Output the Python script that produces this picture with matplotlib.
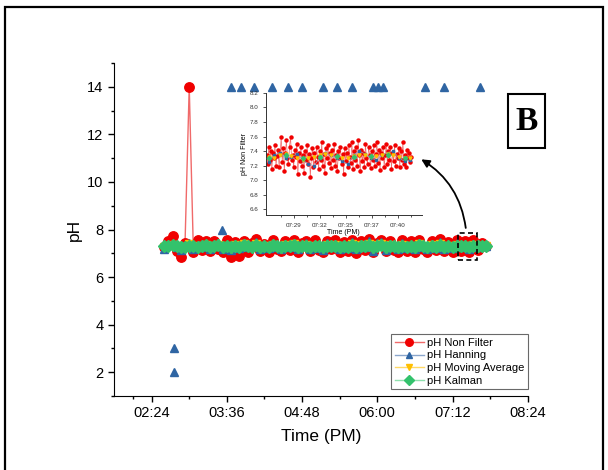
import numpy as np
import matplotlib
matplotlib.use("Agg")
import matplotlib.pyplot as plt
from matplotlib.patches import Rectangle

plt.rcParams['font.family'] = ['Liberation Sans', 'DejaVu Sans']

# ---- data (time in minutes after 12:00 PM) ----
t_start = 156.0
t_step = 4.0

ph_raw = [7.25, 7.50, 7.72, 7.10, 6.86, 7.45, 14.0, 7.05, 7.55, 7.15,
          7.50, 7.08, 7.52, 7.20, 7.04, 7.55, 6.86, 7.48, 6.88, 7.52,
          7.06, 7.45, 7.58, 7.10, 7.40, 7.05, 7.55, 7.18, 7.08, 7.52,
          7.12, 7.56, 7.05, 7.42, 7.50, 7.08, 7.55, 7.15, 7.04, 7.52,
          7.20, 7.55, 7.06, 7.48, 7.10, 7.56, 7.02, 7.50, 7.12, 7.58,
          7.05, 7.45, 7.55, 7.08, 7.52, 7.15, 7.04, 7.56, 7.10, 7.50,
          7.06, 7.55, 7.20, 7.05, 7.52, 7.12, 7.58, 7.08, 7.48, 7.05,
          7.55, 7.10, 7.50, 7.06, 7.56, 7.15, 7.45, 7.30]
ph_hanning = [7.20, 7.35, 7.40, 7.25, 7.15, 7.30, 7.45, 7.20, 7.35, 7.25,
              7.40, 7.18, 7.32, 7.42, 7.20, 7.28, 7.15, 7.38, 7.22, 7.45,
              7.25, 7.30, 7.48, 7.18, 7.35, 7.22, 7.42, 7.28, 7.16, 7.40,
              7.25, 7.45, 7.20, 7.32, 7.42, 7.18, 7.36, 7.24, 7.15, 7.44,
              7.28, 7.40, 7.20, 7.34, 7.22, 7.46, 7.18, 7.38, 7.25, 7.50,
              7.10, 7.45, 7.48, 7.12, 7.40, 7.28, 7.18, 7.42, 7.22, 7.36,
              7.20, 7.44, 7.26, 7.18, 7.40, 7.24, 7.46, 7.20, 7.34, 7.22,
              7.42, 7.25, 7.38, 7.20, 7.40, 7.28, 7.35, 7.30]
ph_moving = [7.28, 7.30, 7.35, 7.32, 7.25, 7.28, 7.38, 7.30, 7.26, 7.32,
             7.34, 7.22, 7.30, 7.36, 7.24, 7.30, 7.20, 7.33, 7.26, 7.38,
             7.28, 7.25, 7.40, 7.22, 7.32, 7.26, 7.36, 7.30, 7.20, 7.35,
             7.28, 7.38, 7.24, 7.30, 7.36, 7.22, 7.32, 7.28, 7.20, 7.36,
             7.30, 7.34, 7.24, 7.30, 7.26, 7.38, 7.22, 7.34, 7.28, 7.40,
             7.18, 7.36, 7.38, 7.20, 7.34, 7.30, 7.22, 7.36, 7.26, 7.32,
             7.24, 7.38, 7.28, 7.22, 7.34, 7.26, 7.38, 7.24, 7.30, 7.26,
             7.36, 7.28, 7.32, 7.24, 7.34, 7.30, 7.32, 7.30]
ph_kalman = [7.30, 7.32, 7.34, 7.30, 7.26, 7.28, 7.32, 7.30, 7.28, 7.31,
             7.33, 7.27, 7.30, 7.33, 7.28, 7.30, 7.26, 7.31, 7.28, 7.33,
             7.29, 7.28, 7.34, 7.27, 7.31, 7.28, 7.33, 7.30, 7.26, 7.32,
             7.29, 7.33, 7.27, 7.30, 7.32, 7.27, 7.31, 7.29, 7.26, 7.32,
             7.30, 7.32, 7.27, 7.30, 7.28, 7.33, 7.27, 7.31, 7.29, 7.34,
             7.26, 7.32, 7.33, 7.27, 7.31, 7.30, 7.27, 7.32, 7.28, 7.31,
             7.28, 7.33, 7.29, 7.27, 7.31, 7.28, 7.33, 7.28, 7.30, 7.28,
             7.32, 7.29, 7.31, 7.28, 7.32, 7.30, 7.31, 7.30]

# Hanning points far outside the band
hanning_out_t = [165, 165, 211, 220, 230, 242, 259, 275, 288, 308, 321, 336,
                 356, 361, 365, 406, 424, 458]
hanning_out_ph = [3, 2, 8, 14, 14, 14, 14, 14, 14, 14, 14, 14,
                  14, 14, 14, 14, 14, 14]

# inset (zoom on the end of the record)
ti_start = 446.1
ti_step = 0.11
inset_raw = [7.35, 7.22, 7.45, 7.28, 7.40, 7.15, 7.38, 7.30, 7.48, 7.20,
             7.33, 7.42, 7.18, 7.36, 7.60, 7.25, 7.44, 7.12, 7.38, 7.55,
             7.30, 7.22, 7.46, 7.60, 7.28, 7.35, 7.18, 7.42, 7.32, 7.50,
             7.08, 7.38, 7.26, 7.45, 7.20, 7.34, 7.10, 7.40, 7.28, 7.48,
             7.22, 7.36, 7.04, 7.30, 7.44, 7.18, 7.38, 7.25, 7.46, 7.32,
             7.15, 7.40, 7.28, 7.52, 7.20, 7.36, 7.10, 7.44, 7.30, 7.48,
             7.24, 7.38, 7.16, 7.42, 7.28, 7.50, 7.20, 7.34, 7.12, 7.40,
             7.30, 7.46, 7.22, 7.36, 7.08, 7.44, 7.26, 7.38, 7.18, 7.48,
             7.32, 7.24, 7.52, 7.15, 7.40, 7.28, 7.46, 7.20, 7.55, 7.34,
             7.12, 7.42, 7.26, 7.38, 7.18, 7.50, 7.30, 7.22, 7.45, 7.35,
             7.16, 7.40, 7.28, 7.48, 7.20, 7.36, 7.52, 7.24, 7.42, 7.14,
             7.38, 7.30, 7.46, 7.18, 7.34, 7.50, 7.22, 7.40, 7.28, 7.45,
             7.15, 7.38, 7.26, 7.48, 7.20, 7.36, 7.30, 7.44, 7.18, 7.40,
             7.28, 7.52, 7.22, 7.35, 7.18, 7.42, 7.30, 7.38, 7.25, 7.32]
tf_start = 446.3
tf_step = 0.6
inset_hanning = [7.25, 7.35, 7.38, 7.30, 7.32, 7.36, 7.28, 7.22, 7.20, 7.30,
                 7.38, 7.34, 7.30, 7.26, 7.22, 7.35, 7.40, 7.36, 7.30, 7.28,
                 7.34, 7.38, 7.40, 7.30, 7.26, 7.28]
inset_moving = [7.32, 7.30, 7.34, 7.36, 7.33, 7.30, 7.28, 7.30, 7.32, 7.34,
                7.36, 7.35, 7.32, 7.30, 7.31, 7.33, 7.35, 7.34, 7.32, 7.33,
                7.35, 7.36, 7.34, 7.32, 7.30, 7.31]
inset_kalman = [7.30, 7.31, 7.33, 7.34, 7.32, 7.31, 7.30, 7.29, 7.30, 7.32,
                7.38, 7.34, 7.33, 7.31, 7.30, 7.32, 7.34, 7.35, 7.33, 7.32,
                7.33, 7.34, 7.35, 7.33, 7.31, 7.32]

x_ticks = [144, 216, 288, 360, 432, 504]
x_labels = ['02:24', '03:36', '04:48', '06:00', '07:12', '08:24']
xi_ticks = [449.0, 451.75, 454.5, 457.25, 460.0]
xi_labels = ['07:29', '07:32', '07:35', '07:37', '07:40']

t_main = t_start + t_step * np.arange(len(ph_raw))
t_in = ti_start + ti_step * np.arange(len(inset_raw))
t_inf = tf_start + tf_step * np.arange(len(inset_hanning))

red, red_l = '#f00000', '#f06a6a'
blue, blue_l = '#2f65a3', '#8aa6cc'
gold, gold_l = '#ffbf00', '#ffd966'
green, green_l = '#33c26c', '#8ee0ad'

fig = plt.figure(figsize=(6.08, 4.70), dpi=100)
ax = fig.add_axes([0.1875, 0.1574, 0.6805, 0.7086])

ax.plot(t_main, ph_raw, '-o', color=red_l, mfc=red, mec=red, ms=6.8, lw=1,
        label='pH Non Filter', zorder=2)
ax.plot(t_main, ph_hanning, '-^', color=blue, mfc=blue, mec=blue, ms=6.2,
        lw=2, label='pH Hanning', zorder=3)
ax.plot(hanning_out_t, hanning_out_ph, '^', color=blue, ms=6, zorder=3)
ax.plot(t_main, ph_moving, '-v', color=gold, mfc=gold, mec=gold, ms=6,
        lw=2, label='pH Moving Average', zorder=4)
ax.plot(t_main, ph_kalman, '-D', color=green, mfc=green, mec=green, ms=6,
        lw=4, label='pH Kalman', zorder=5)

ax.set_xlim(108, 504)
ax.set_ylim(1, 15)
ax.set_xticks(x_ticks)
ax.set_xticklabels(x_labels)
ax.set_xticks([126, 180, 252, 324, 396, 468], minor=True)
ax.set_yticks([2, 4, 6, 8, 10, 12, 14])
ax.set_yticks([1, 3, 5, 7, 9, 11, 13, 15], minor=True)
ax.tick_params(which='major', direction='out', length=4, width=1, labelsize=10.5)
ax.tick_params(which='minor', direction='out', length=2.5, width=1)
for s in ['top', 'right']:
    ax.spines[s].set_visible(False)
ax.set_xlabel('Time (PM)', fontsize=12.5, labelpad=6)
ax.set_ylabel('pH', fontsize=12.5, labelpad=4)

leg = ax.legend(loc='lower right', bbox_to_anchor=(1.0, 0.02),
                fontsize=8, frameon=True, fancybox=False, edgecolor='#444444',
                handlelength=2.6, borderpad=0.3, labelspacing=0.25,
                handletextpad=0.3, borderaxespad=0.0, markerscale=0.8)
leg.get_frame().set_linewidth(0.8)
for ln, c in zip(leg.get_lines(), [red_l, blue_l, gold_l, green_l]):
    ln.set_color(c)
    ln.set_linewidth(1)

# dashed zoom box and arrow
ax.add_patch(Rectangle((437, 6.7), 18, 1.15, fill=False, ls=(0, (3, 2)),
                       lw=1.2, ec='black', zorder=6))
ax.annotate('', xy=(0.689, 0.664), xycoords='figure fraction',
            xytext=(445, 7.95), textcoords='data',
            arrowprops=dict(arrowstyle='-|>', color='black', lw=1.3,
                            mutation_scale=12,
                            connectionstyle='arc3,rad=0.25'))

# inset
axi = fig.add_axes([0.437, 0.5426, 0.2566, 0.2596])
axi.plot(t_in, inset_raw, '-o', color=red_l, mfc=red, mec=red, ms=2.2, lw=0.5,
         zorder=2)
axi.plot(t_inf, inset_hanning, '-s', color=blue_l, mfc=blue, mec=blue, ms=1.8,
         lw=0.5, zorder=3)
axi.plot(t_inf, inset_moving, 'v', color=gold, ms=2.2, zorder=3)
axi.plot(t_inf[::3], inset_kalman[::3], 'D', color=green, ms=2.2, zorder=3)
axi.set_xlim(446.0, 462.5)
axi.set_ylim(6.52, 8.2)
axi.set_xticks(xi_ticks)
axi.set_xticklabels(xi_labels)
axi.set_xticks([447.6, 450.4, 453.1, 455.9, 458.6, 461.4], minor=True)
axi.set_yticks([6.6, 6.8, 7.0, 7.2, 7.4, 7.6, 7.8, 8.0, 8.2])
axi.tick_params(which='major', direction='out', length=2, width=0.6,
                labelsize=4.5, colors='#333333')
axi.tick_params(which='minor', direction='out', length=1.2, width=0.6,
                colors='#333333')
for s in ['top', 'right']:
    axi.spines[s].set_visible(False)
for s in ['left', 'bottom']:
    axi.spines[s].set_linewidth(0.7)
    axi.spines[s].set_color('#333333')
axi.set_xlabel('Time (PM)', fontsize=5, labelpad=1)
axi.set_ylabel('pH Non Filter', fontsize=5, labelpad=1)
axi.patch.set_alpha(0)

# panel letter
fig.patches.append(Rectangle((508 / 608, 1 - 148 / 470), 37 / 608, 54 / 470,
                             transform=fig.transFigure, fill=False,
                             ec='black', lw=1.5))
fig.text(526.5 / 608, 1 - 121 / 470, 'B', ha='center', va='center',
         fontsize=24, fontweight='bold', family='Liberation Serif')

# outer frame
fig.patches.append(Rectangle((5 / 608, -0.05), 598 / 608, 1.05 - 7 / 470,
                             transform=fig.transFigure, fill=False,
                             ec='black', lw=1.6))

fig.savefig('out.png', dpi=100)
